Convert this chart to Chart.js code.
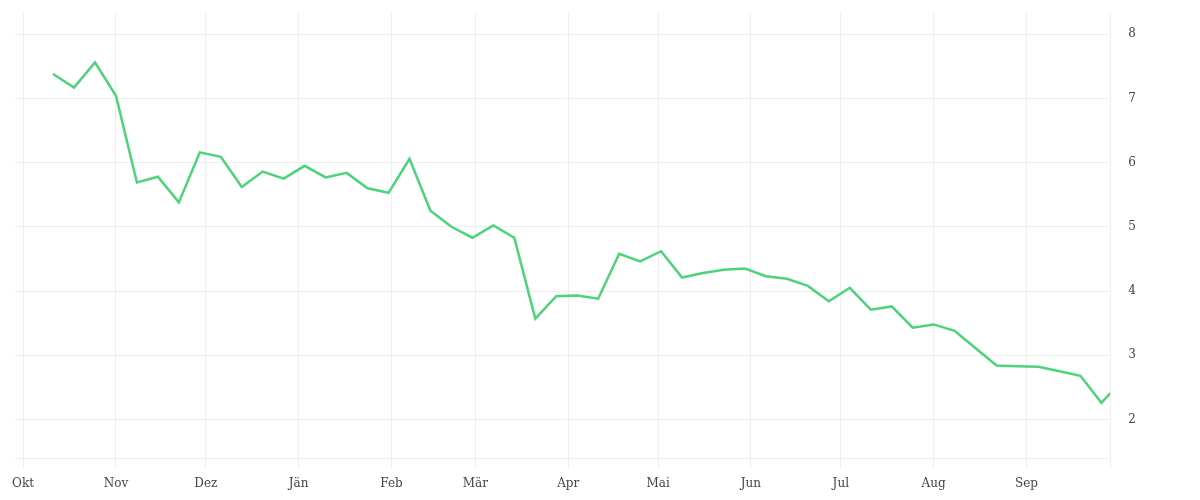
<html>
<head>
<meta charset="utf-8">
<title>Verlauf</title>
<script src="https://cdn.jsdelivr.net/npm/chart.js@4.4.0/dist/chart.umd.min.js"></script>
<style>
  body { margin: 0; background: #fff; }
  #wrap { width: 1200px; height: 500px; }
</style>
</head>
<body>
<div id="wrap"><canvas id="lineChart"></canvas></div>
<script>
// weekly dates
var dates = ['2020-10-11','2020-10-18','2020-10-25','2020-11-01','2020-11-08','2020-11-15','2020-11-22','2020-11-29',
  '2020-12-06','2020-12-13','2020-12-20','2020-12-27','2021-01-03','2021-01-10','2021-01-17','2021-01-24',
  '2021-01-31','2021-02-07','2021-02-14','2021-02-21','2021-02-28','2021-03-07','2021-03-14','2021-03-21',
  '2021-03-28','2021-04-04','2021-04-11','2021-04-18','2021-04-25','2021-05-02','2021-05-09','2021-05-16',
  '2021-05-23','2021-05-30','2021-06-06','2021-06-13','2021-06-20','2021-06-27','2021-07-04','2021-07-11',
  '2021-07-18','2021-07-25','2021-08-01','2021-08-08','2021-08-15','2021-08-22','2021-08-29','2021-09-05',
  '2021-09-12','2021-09-19','2021-09-26','2021-09-29'];
var values = [7.38, 7.17, 7.56, 7.04, 5.69, 5.78, 5.38, 6.16, 6.09, 5.62, 5.86, 5.75, 5.95, 5.77, 5.84, 5.60,
  5.53, 6.06, 5.25, 5.00, 4.83, 5.02, 4.83, 3.57, 3.92, 3.93, 3.88, 4.58, 4.46, 4.62, 4.21, 4.28,
  4.33, 4.35, 4.23, 4.19, 4.08, 3.84, 4.05, 3.71, 3.76, 3.43, 3.48, 3.38, 3.11, 2.84, 2.83, 2.82,
  2.75, 2.68, 2.26, 2.41];
var monthStarts = ['2020-10-01','2020-11-01','2020-12-01','2021-01-01','2021-02-01','2021-03-01',
  '2021-04-01','2021-05-01','2021-06-01','2021-07-01','2021-08-01','2021-09-01'];
var monthLabels = ['Okt','Nov','Dez','Jän','Feb','Mär','Apr','Mai','Jun','Jul','Aug','Sep'];
var yTicks = [2, 3, 4, 5, 6, 7, 8];

var DAY = 86400000;
var t = function(s) { return Date.parse(s + 'T00:00:00Z'); };
var points = dates.map(function(d, i) { return { x: t(d), y: values[i] }; });
var monthTimes = monthStarts.map(t);
var xMin = t('2020-09-28') + 0.3 * DAY;
var xMax = t('2021-09-29');

var ctx = document.getElementById('lineChart').getContext('2d');
var lineChart = new Chart(ctx, {
  type: 'line',
  data: {
    datasets: [{
      data: points,
      borderColor: '#4cd37b',
      borderWidth: 2.5,
      pointRadius: 0,
      tension: 0,
      fill: false
    }]
  },
  options: {
    responsive: true,
    maintainAspectRatio: false,
    animation: false,
    layout: { padding: { left: 15, top: 13, right: 62, bottom: 1 } },
    plugins: { legend: { display: false }, tooltip: { enabled: false } },
    scales: {
      x: {
        type: 'linear',
        min: xMin,
        max: xMax,
        afterBuildTicks: function(axis) {
          axis.ticks = monthTimes.map(function(v) { return { value: v }; }).concat([{ value: xMax }]);
        },
        grid: { color: '#eeeeee', lineWidth: 1, drawTicks: true, tickLength: 10 },
        border: { display: true, color: '#eeeeee' },
        ticks: {
          autoSkip: false,
          maxRotation: 0,
          padding: 8,
          color: '#444',
          font: { family: 'DejaVu Serif', size: 12 },
          callback: function(v) {
            var i = monthTimes.indexOf(v);
            return i >= 0 ? monthLabels[i] : '';
          }
        }
      },
      y: {
        position: 'right',
        min: 1.39,
        max: 8.33,
        afterBuildTicks: function(axis) {
          axis.ticks = yTicks.map(function(v) { return { value: v }; });
        },
        grid: { color: '#eeeeee', lineWidth: 1, drawTicks: true, tickLength: 16, tickColor: 'rgba(0,0,0,0)' },
        border: { display: true, color: '#eeeeee' },
        ticks: {
          padding: 2,
          color: '#444',
          font: { family: 'DejaVu Serif', size: 12 }
        }
      }
    }
  }
});
</script>
</body>
</html>
